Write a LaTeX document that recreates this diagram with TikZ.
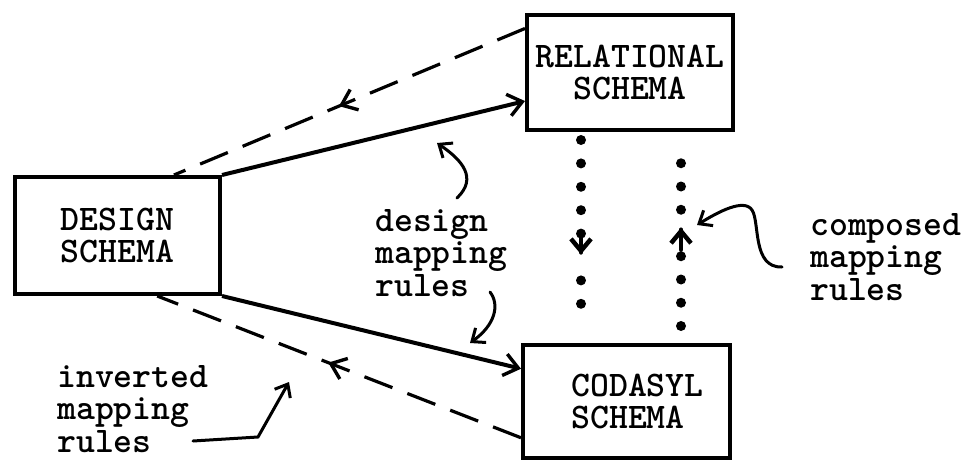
\documentclass[tikz,border=0pt]{standalone}
\usepackage{fontspec}
\usetikzlibrary{arrows.meta,decorations.markings,calc}
\tikzset{barb/.tip={Straight Barb[length=14pt,width=22pt,line width=3.4pt]},
  dotbarb/.tip={Straight Barb[length=12pt,width=20pt,line width=4.5pt]},
  smallbarb/.tip={Straight Barb[length=11pt,width=18pt,line width=3pt]}}
\begin{document}
\begin{tikzpicture}[x=1pt,y=-1pt,
  every node/.style={font=\fontsize{36}{32.5}\selectfont\ttfamily\bfseries},
  box/.style={draw,line width=4pt,rectangle,inner sep=0pt,align=center},
  conn/.style={line width=4pt},
  dconn/.style={line width=3.2pt,dash pattern=on 30pt off 16pt},
  note/.style={align=left,inner sep=0pt,anchor=north west},
  notearrow/.style={line width=3pt,line cap=round,-{smallbarb}},
  dotsA/.style={line width=10pt,line cap=round,dash pattern=on 0pt off 23.4pt on 0pt off 23.4pt on 0pt off 23.4pt on 0pt off 23.4pt on 0pt off 46.8pt on 0pt off 23.4pt on 0pt off 23.4pt on 0pt off 60pt},
  dotsB/.style={line width=10pt,line cap=round,dash pattern=on 0pt off 23.25pt on 0pt off 23.25pt on 0pt off 23.25pt on 0pt off 46.5pt on 0pt off 23.25pt on 0pt off 23.25pt on 0pt off 23.25pt on 0pt off 60pt},
  midarrow/.style={postaction={decorate},decoration={markings,mark=at position #1 with {\arrow{barb}}}},
  dotarrow/.style={postaction={decorate},decoration={markings,mark=at position #1 with {\draw[solid,line width=4.5pt,line cap=round] (-22pt,0pt) -- (-2pt,0pt); \arrow{dotbarb}}}}
]
\useasboundingbox[fill=white] (0,0) rectangle (969,460);

% boxes
\node[box,minimum width=205pt,minimum height=117pt] (design) at (117.5,235.5) {DESIGN\\SCHEMA};
\node[box,minimum width=206pt,minimum height=115pt] (relational) at (630,72.5) {RELATIONAL\\SCHEMA};
\node[box,minimum width=207pt,minimum height=113pt,align=left] (codasyl) at (626.5,401.5) {\hspace*{22pt}CODASYL\\\hspace*{22pt}SCHEMA};

% connector end points on the boxes
\coordinate (r1) at ($(relational.north west)!0.13!(relational.south west)$);
\coordinate (r2) at ($(relational.north west)!0.74!(relational.south west)$);
\coordinate (d1) at ($(design.north west)!0.77!(design.north east)$);
\coordinate (d2) at ($(design.south west)!0.69!(design.south east)$);
\coordinate (c1) at ($(codasyl.north west)!0.22!(codasyl.south west)$);
\coordinate (c2) at ($(codasyl.north west)!0.81!(codasyl.south west)$);

% mapping connectors
\draw[conn,-{barb}] (design.north east) -- (r2);
\draw[conn,-{barb}] (design.south east) -- (c1);
\draw[dconn,midarrow=0.53] (r1) -- (d1);
\draw[dconn,midarrow=0.53] (c2) -- (d2);

% composed (dotted) connectors
\coordinate (ra) at ($(relational.south west)+(56,8)$);
\coordinate (ca) at ($(codasyl.north west)+(60,-20)$);
\coordinate (rb) at ($(relational.south west)+(156,12)$);
\coordinate (cb) at ($(codasyl.north west)+(160,-17)$);
\draw[dotsA,dotarrow=0.625] (ra) -- (ca);
\draw[dotsB,dotarrow=0.54] (cb) -- (rb);

% notes
\node[note] (t1) at (375,209) {design\\mapping\\rules};
\node[note] (t2) at (810,213) {composed\\mapping\\rules};
\node[note] (t3) at (57,365) {inverted\\mapping\\rules};

% note arrows
\coordinate (a1s) at (457,198);
\coordinate (a1e) at (437,143);
\coordinate (a2s) at (490,292);
\coordinate (a2e) at (470,343);
\coordinate (a3s) at (782,267);
\coordinate (a3m) at (752,210);
\coordinate (a3e) at (697,225);
\coordinate (a4s) at (193,441);
\coordinate (a4m) at (258,437);
\coordinate (a4e) at (289,382);
\draw[notearrow] (a1s) .. controls (478,178) and (462,160) .. (a1e);
\draw[notearrow] (a2s) .. controls (500,305) and (495,325) .. (a2e);
\draw[notearrow] (a3s) .. controls (752,268) and (760,222) .. (a3m) .. controls (744,198) and (718,212) .. (a3e);
\draw[notearrow] (a4s) -- (a4m) -- (a4e);
\end{tikzpicture}
\end{document}
